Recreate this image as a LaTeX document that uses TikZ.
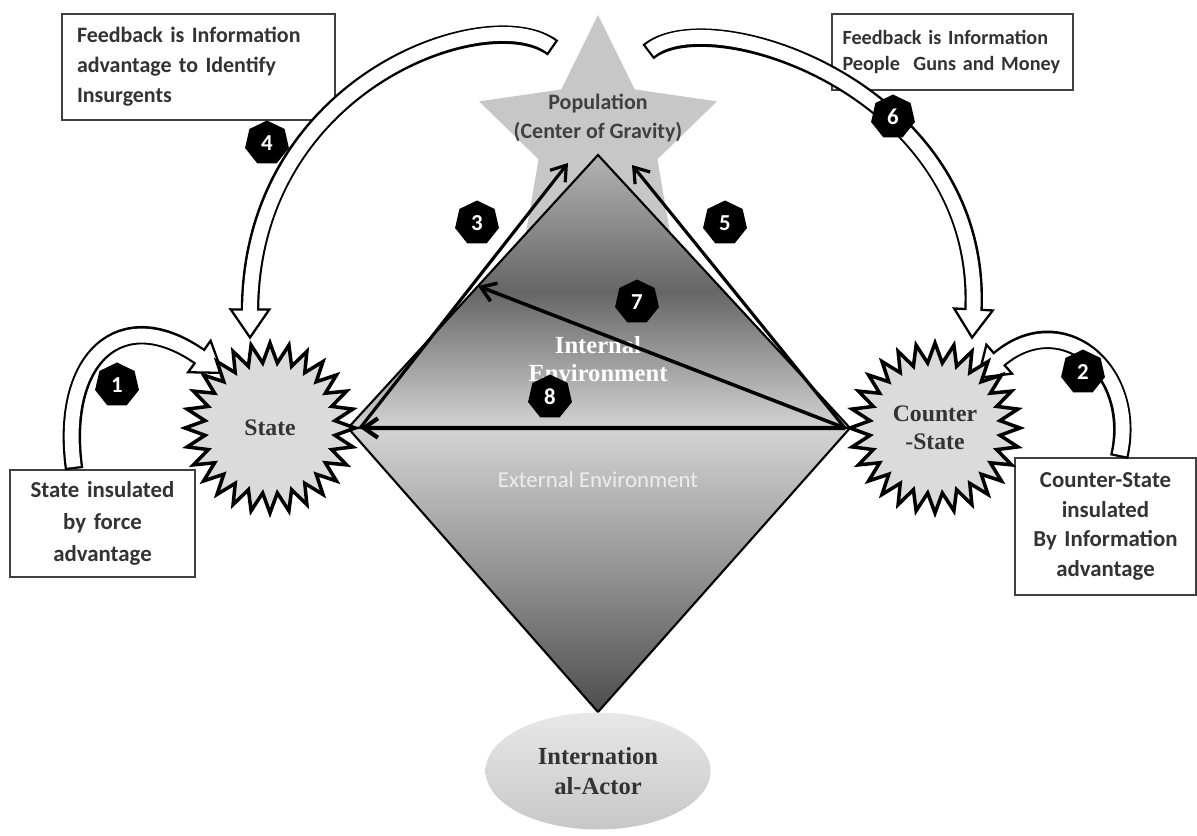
\documentclass[tikz,border=0pt]{standalone}
\usepackage{fontspec}
\setmainfont{Liberation Serif}
\newfontfamily\calibri{Carlito}
\usetikzlibrary{arrows.meta, shapes.geometric, decorations.markings, calc}

\tikzset{
  textbox/.style={draw=black!75, line width=1pt, fill=white, text=black!80, inner ysep=0pt, inner xsep=0.3cm},
  burst/.style={star, star points=28, star point ratio=1.3, minimum size=3.4cm, inner sep=0pt,
    fill=black!14, draw=black, line width=2pt, text=black!80, align=center,
    font=\bfseries\fontsize{13.5}{16}\selectfont},
  badge/.style={regular polygon, regular polygon sides=7, minimum size=0.9cm, inner sep=0pt,
    fill=black, text=white, font=\calibri\bfseries\fontsize{13}{13}\selectfont},
  link/.style={line width=1.8pt, -{Straight Barb[length=8pt, width=11pt]}},
  blockarrow/.style={line width=10.5pt, shorten >=15pt,
    postaction={decorate, decoration={markings, mark=at position 0.999 with {
      \draw[line width=1.3pt, draw=black, fill=white, shorten >=0pt, shorten <=0pt]
        (0pt,0pt) -- (-16pt,11pt) -- (-16pt,-11pt) -- cycle;}}},
    postaction={draw=white, line width=7.9pt, shorten <=1.3pt, shorten >=14pt}}
}

\begin{document}
\begin{tikzpicture}
  \useasboundingbox (0,0) rectangle (23.94,16.7);

  \node[textbox, text width=4.86cm, minimum height=2.12cm, align=left,
    font=\calibri\bfseries\fontsize{12.5}{17}\selectfont] (tlbox) at (3.97,15.36)
    {Feedback is Information\\advantage to Identify\\Insurgents};
  \node[textbox, text width=4.4cm, inner xsep=0.21cm, minimum height=1.52cm, align=left,
    font=\calibri\bfseries\fontsize{11.5}{15}\selectfont] (trbox) at (19.05,15.66)
    {Feedback is Information\\People\ \ Guns and Money};
  \node[textbox, text width=3.3cm, inner xsep=0.2cm, minimum height=2.14cm, align=center,
    font=\calibri\bfseries\fontsize{13}{18}\selectfont] (blbox) at (2.05,6.23)
    {State insulated\\by force\\advantage};
  \node[textbox, text width=3.22cm, inner xsep=0.2cm, minimum height=2.74cm, align=center,
    font=\calibri\bfseries\fontsize{13}{17}\selectfont] (brbox) at (22.11,6.17)
    {Counter-State\\insulated\\By Information\\advantage};

  \node[star, star points=5, star point ratio=2, minimum size=5cm, inner sep=0pt,
    fill=black!22] (popstar) at (11.96,13.9) {};
  \node[align=center, text=black!75, font=\calibri\bfseries\fontsize{12.5}{17}\selectfont]
    (pop) at ([yshift=0.44cm]popstar.center) {Population\\(Center of Gravity)};

  \coordinate (tc) at (11.96,13.6);
  \coordinate (lc) at (6.96,8.14);
  \coordinate (rc) at (17,8.14);
  \coordinate (bc) at (11.96,2.46);
  \draw[line width=1.2pt, top color=black!30, bottom color=black!17, middle color=black!60]
    (lc) -- (tc) -- (rc) -- cycle;
  \draw[line width=1.2pt, top color=black!17, bottom color=black!70, middle color=black!42]
    (lc) -- (bc) -- (rc) -- cycle;

  \node[align=center, text=white, font=\bfseries\fontsize{14}{16}\selectfont]
    (inenv) at (11.96,9.52) {Internal\\Environment};
  \node[text=white!93!black, font=\calibri\fontsize{13}{15}\selectfont]
    (exenv) at (11.96,7.1) {External Environment};

  \node[ellipse, minimum width=4.5cm, minimum height=2.34cm, top color=black!9,
    bottom color=black!22, align=center, text=black!80,
    font=\bfseries\fontsize{14}{17}\selectfont] (intl) at (11.96,1.28) {Internation\\al-Actor};

  \coordinate (statec) at (5.4,8.14);
  \coordinate (cstatec) at (18.7,8.14);

  \coordinate (t1) at ([xshift=1.3cm]blbox.north west);
  \coordinate (h1) at ([shift={(-0.95,1.1)}]statec);
  \coordinate (t2) at ([xshift=2.1cm]brbox.north west);
  \coordinate (h2) at ([shift={(0.86,1.0)}]cstatec);
  \coordinate (t4) at ([shift={(-0.9,1.84)}]popstar.center);
  \coordinate (h4) at ([shift={(-0.4,1.8)}]statec);
  \coordinate (t6) at ([shift={(1.0,1.76)}]popstar.center);
  \coordinate (h6) at ([shift={(0.74,1.8)}]cstatec);

  \draw[blockarrow] (t1) .. controls +(-0.3,2.2) and +(-2.04,1.46) .. (h1);
  \draw[blockarrow] (t2) .. controls +(0.4,1.76) and +(1.64,1.46) .. (h2);
  \draw[blockarrow] (t4) .. controls +(-1.26,0.96) and +(0,5.16) .. (h4);
  \draw[blockarrow] (t6) .. controls +(1.24,1.04) and +(0.26,4.96) .. (h6);

  \node[burst] (state) at (statec) {State};
  \node[burst] (cstate) at (cstatec) {Counter\\-State};

  \coordinate (a3) at ([shift={(-0.6,-0.46)}]popstar.center);
  \coordinate (a5) at ([shift={(0.68,-0.5)}]popstar.center);
  \coordinate (e7) at ($(lc)!0.52!(tc)$);

  \draw[link] (state.east) -- (a3);
  \draw[link] (cstate.west) -- (a5);
  \draw[link, line width=2pt] (cstate.west) -- (e7);
  \draw[link, line width=2.4pt] (cstate.west) -- (state.east);

  \node[badge] (b1) at (2.34,9.0) {1};
  \node[badge] (b2) at (21.66,9.26) {2};
  \node[badge] (b3) at (9.54,12.24) {3};
  \node[badge] (b4) at (5.34,13.84) {4};
  \node[badge] (b5) at (14.5,12.24) {5};
  \node[badge] (b6) at (17.86,14.36) {6};
  \node[badge] (b7) at (12.74,10.66) {7};
  \node[badge] (b8) at (11.0,8.76) {8};
\end{tikzpicture}
\end{document}
